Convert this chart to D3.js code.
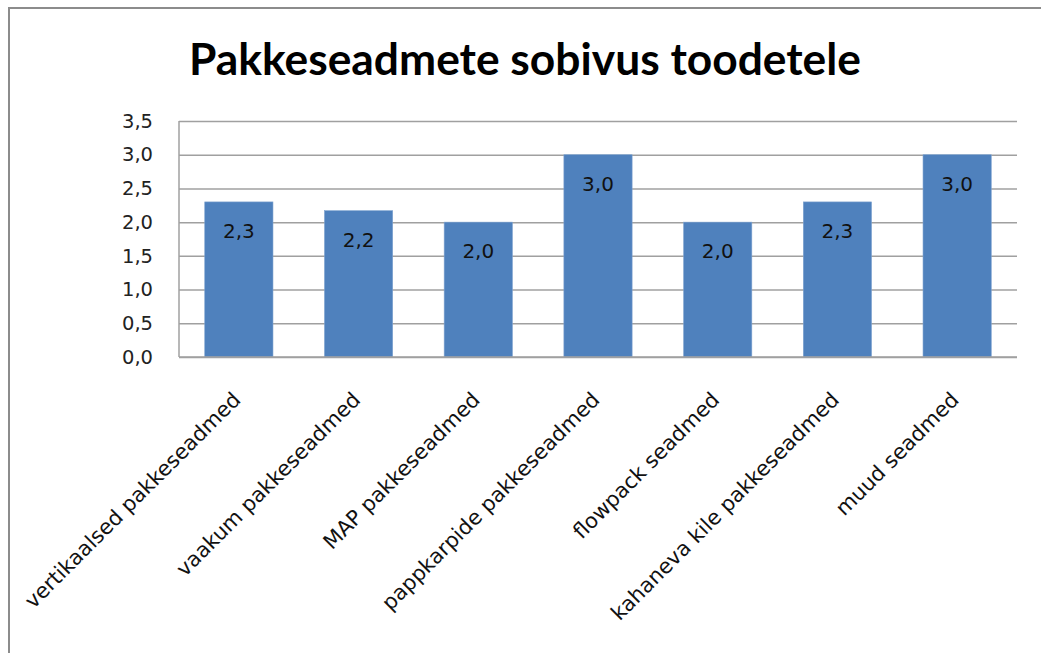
<!DOCTYPE html>
<html><head><meta charset="utf-8">
<script src="https://cdn.jsdelivr.net/npm/d3@7"></script>
<style>body{margin:0;background:#fff}svg{display:block}</style>
</head><body><svg id="c" width="1041" height="653"></svg>
<script>
const categories = ["vertikaalsed pakkeseadmed","vaakum pakkeseadmed","MAP pakkeseadmed","pappkarpide pakkeseadmed","flowpack seadmed","kahaneva kile pakkeseadmed","muud seadmed"];
const values = [2.3, 2.17, 2.0, 3.0, 2.0, 2.3, 3.0];
const yTicks = [0,0.5,1.0,1.5,2.0,2.5,3.0,3.5];
const title = "Pakkeseadmete sobivus toodetele";

const svg = d3.select("#c");
const fmt = v => d3.format(".1f")(v).replace(".", ",");
const m = {left:179, right:1017, top:121, bottom:357};

svg.append("rect").attr("x",9).attr("y",8).attr("width",1100).attr("height",700)
  .attr("fill","#fff").attr("stroke","#8c8c8c").attr("stroke-width",2);

const t = svg.append("text").attr("x",525).attr("y",75).attr("text-anchor","middle")
  .attr("font-family","Lato, sans-serif").attr("font-weight","bold").attr("font-size",44)
  .attr("fill","#000").text(title);
t.attr("textLength",672).attr("lengthAdjust","spacingAndGlyphs");

const x = d3.scaleBand().domain(categories).range([m.left,m.right]).paddingInner(0.43).paddingOuter(0.215);
const y = d3.scaleLinear().domain([0,3.5]).range([m.bottom,m.top]);

const ga = svg.append("g").attr("transform",`translate(${m.left},0)`)
  .call(d3.axisLeft(y).tickValues(yTicks).tickSize(-(m.right-m.left)).tickFormat(fmt).tickPadding(26));
ga.select(".domain").remove();
ga.selectAll(".tick line").attr("stroke","#a0a0a0").attr("stroke-width",1.5);
ga.selectAll(".tick text").attr("font-family","DejaVu Sans, sans-serif").attr("font-size",19.5).attr("fill","#222");

svg.append("line").attr("x1",m.left).attr("x2",m.left).attr("y1",m.top).attr("y2",m.bottom)
  .attr("stroke","#a0a0a0").attr("stroke-width",1.5);

svg.append("g").selectAll("rect").data(categories).join("rect")
  .attr("x",d=>x(d)).attr("width",x.bandwidth())
  .attr("y",(d,i)=>y(values[i])).attr("height",(d,i)=>y(0)-y(values[i]))
  .attr("fill","#4F81BD").attr("stroke","#7fa3cf").attr("stroke-width",0.6);

svg.append("line").attr("x1",m.left).attr("x2",m.right).attr("y1",m.bottom).attr("y2",m.bottom)
  .attr("stroke","#a0a0a0").attr("stroke-width",1.5);

svg.append("g").selectAll("text").data(categories).join("text")
  .attr("x",d=>x(d)+x.bandwidth()/2).attr("y",(d,i)=>y(values[i])+36)
  .attr("text-anchor","middle").attr("font-family","DejaVu Sans, sans-serif").attr("font-size",20)
  .attr("fill","#111").text((d,i)=>fmt(values[i]));

svg.append("g").selectAll("text").data(categories).join("text")
  .attr("transform",d=>`translate(${x(d)+x.bandwidth()/2+3},${m.bottom+44}) rotate(-45)`)
  .attr("text-anchor","end").attr("font-family","DejaVu Sans, sans-serif").attr("font-size",21)
  .attr("fill","#111").text(d=>d);
</script></body></html>
